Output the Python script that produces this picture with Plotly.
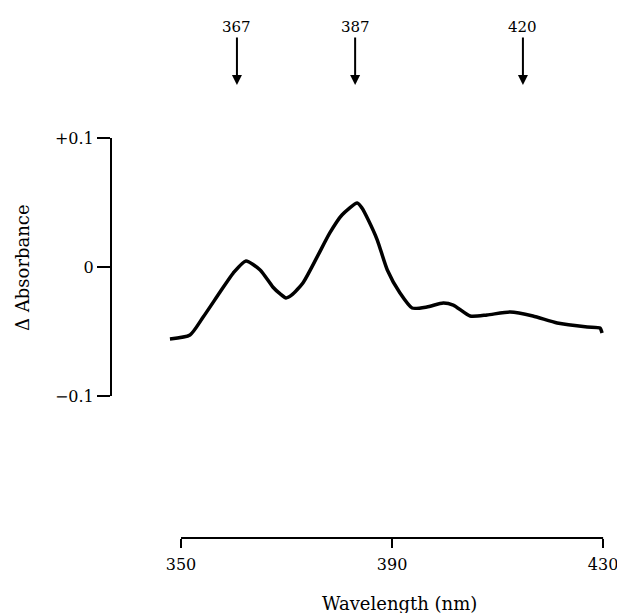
import plotly.graph_objects as go

# Difference spectrum
wavelength = [347.9, 351.7, 354.2, 357.4, 359.9, 362.3, 365.0, 367.4, 368.8, 369.9,
              371.0, 373.1, 375.8, 378.2, 380.5, 383.4, 384.3, 385.5, 387.2, 389.1,
              391.5, 393.8, 396.6, 399.7, 401.6, 404.8, 408.0, 412.4, 416.7, 421.3,
              427.0, 429.4, 429.8]
delta_abs = [-0.0558, -0.0527, -0.0388, -0.0194, -0.0047, 0.0047, -0.0023, -0.0155, -0.0209, -0.0240,
             -0.0217, -0.0124, 0.0078, 0.0264, 0.0403, 0.0496, 0.0457, 0.0364, 0.0209, -0.0023,
             -0.0202, -0.0318, -0.0310, -0.0279, -0.0295, -0.0380, -0.0372, -0.0349, -0.0380, -0.0434,
             -0.0465, -0.0473, -0.0512]

x_ticks = [350, 390, 430]
y_ticks = [-0.1, 0, 0.1]
y_tick_labels = ["\u22120.1", "0", "+0.1"]

arrow_labels = ["367", "387", "420"]
arrow_positions = [360.6, 383.0, 414.8]

serif = "DejaVu Serif, Liberation Serif, serif"

fig = go.Figure()
fig.add_trace(go.Scatter(x=wavelength, y=delta_abs, mode="lines",
                         line=dict(color="black", width=3.5, shape="spline", smoothing=0.6),
                         showlegend=False, hoverinfo="skip"))

fig.update_layout(
    width=625, height=613,
    margin=dict(l=103, r=13, t=130, b=83),
    plot_bgcolor="white", paper_bgcolor="white",
    font=dict(family=serif, color="black", size=16),
    xaxis=dict(range=[336.73, 433.2], showgrid=False, zeroline=False, showline=False,
               tickvals=x_ticks, ticktext=[str(v) for v in x_ticks],
               ticks="outside", ticklen=9, tickwidth=1.5, tickcolor="black",
               ticklabelstandoff=3,
               tickfont=dict(family=serif, size=16)),
    yaxis=dict(range=[-0.2101, 0.1], showgrid=False, zeroline=False, showline=False,
               tickvals=y_ticks, ticktext=y_tick_labels,
               ticks="outside", ticklen=13, tickwidth=1.5, tickcolor="black",
               tickfont=dict(family=serif, size=16)),
)

# axis lines spanning only the labelled ranges
fig.add_shape(type="line", xref="x", yref="paper", x0=x_ticks[0], x1=x_ticks[-1], y0=0, y1=0,
              line=dict(color="black", width=2))
fig.add_shape(type="line", xref="paper", yref="y", x0=0, x1=0, y0=y_ticks[0], y1=y_ticks[-1],
              line=dict(color="black", width=2))

for lab, pos in zip(arrow_labels, arrow_positions):
    fig.add_annotation(x=pos, y=1.1325, xref="x", yref="paper", text=lab,
                       showarrow=True, ax=0, ay=-58, arrowhead=2, arrowsize=1.0,
                       arrowwidth=2, arrowcolor="black", standoff=0,
                       font=dict(family=serif, size=15, color="black"))

fig.add_annotation(x=0.566, y=-0.1625, xref="paper", yref="paper", text="Wavelength (nm)",
                   xanchor="center", yanchor="middle",
                   showarrow=False, font=dict(family=serif, size=18, color="black"))
fig.add_annotation(x=-0.175, y=0.6775, xref="paper", yref="paper", text="\u0394 Absorbance",
                   xanchor="center", yanchor="middle",
                   showarrow=False, textangle=-90, font=dict(family=serif, size=18, color="black"))

fig.write_html("out.html")
